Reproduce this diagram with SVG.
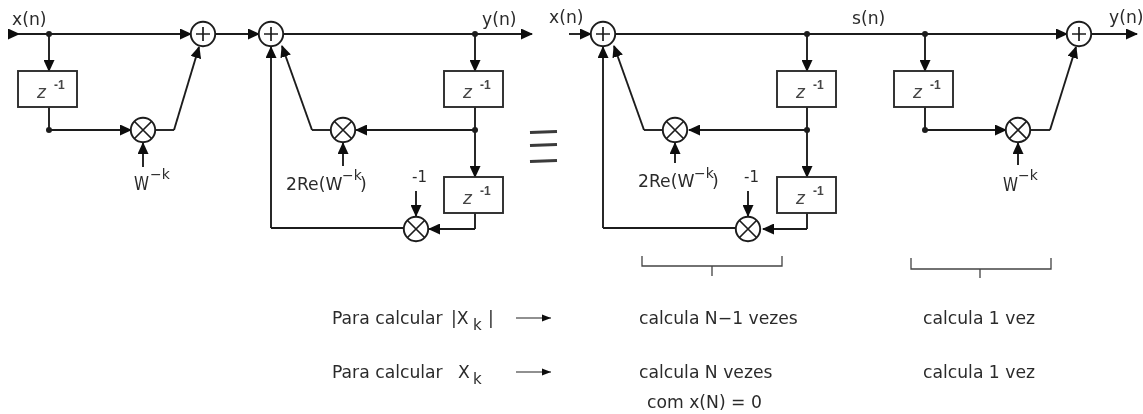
<svg xmlns="http://www.w3.org/2000/svg" width="1143" height="414" viewBox="0 0 1143 414">
<style>
.l{fill:none;stroke:#1c1c1c;stroke-width:1.9}
.la{fill:none;stroke:#1c1c1c;stroke-width:1.9;marker-end:url(#a)}
.th{fill:none;stroke:#444;stroke-width:1.3}
.box{fill:#fff;stroke:#2a2a2a;stroke-width:1.9}
.c{fill:#fff;stroke:#1c1c1c;stroke-width:1.9}
.s{stroke:#1c1c1c;stroke-width:1.7;fill:none}
.d{fill:#1c1c1c}
text{font-family:"DejaVu Sans",sans-serif;fill:#2c2c2c;font-size:17.2px}
.z{font-family:"Liberation Sans",sans-serif;font-size:19px;font-style:italic;fill:#444}
.zs{font-family:"Liberation Sans",sans-serif;font-size:12px;font-weight:bold;fill:#444}
.sup{font-size:14px}
.w{font-size:19px}
.m{font-size:15px}
</style>
<defs>
<marker id="a" viewBox="0 0 12 11" refX="11" refY="5.5" markerWidth="12" markerHeight="11" markerUnits="userSpaceOnUse" orient="auto"><path d="M0 0L12 5.5L0 11Z" fill="#111"/></marker>
<marker id="b" viewBox="0 0 10 8" refX="10" refY="4" markerWidth="9" markerHeight="8" markerUnits="userSpaceOnUse" orient="auto"><path d="M0 0L10 4L0 8Z" fill="#111"/></marker>
<filter id="soft" x="-2%" y="-2%" width="104%" height="104%"><feGaussianBlur stdDeviation="0.45"/></filter>
<g id="add"><circle class="c" r="12.2"/><path class="s" d="M-7 0H7M0-7V7"/></g>
<g id="mul"><circle class="c" r="12.2"/><path class="s" d="M-8.500-8.500L8.500 8.500M-8.500 8.500L8.500-8.500"/></g>
<g id="zb"><rect class="box" width="59" height="36"/><text class="z" x="19" y="27">z</text><text class="zs" x="36" y="18">-1</text></g>
</defs>
<g filter="url(#soft)">
<g id="connectors">
<path class="la" d="M8 34H19"/><path class="la" d="M19 34H191"/>
<path class="la" d="M49 34V71"/>
<path class="l" d="M49 107V130"/>
<path class="la" d="M49 130H131"/>
<path class="la" d="M143 167V143"/>
<path class="l" d="M155 130H174"/>
<path class="la" d="M174 130L199 47"/>
<path class="la" d="M215 34H259"/>
<path class="la" d="M283 34H532"/>
<path class="la" d="M475 34V71"/>
<path class="l" d="M475 107V130"/>
<path class="la" d="M475 130H356"/>
<path class="la" d="M475 130V177"/>
<path class="l" d="M331 130H312"/>
<path class="la" d="M312 130L282 46"/>
<path class="la" d="M343 166V143"/>
<path class="l" d="M475 212V229"/>
<path class="la" d="M475 229H429"/>
<path class="la" d="M416 191V216"/>
<path class="l" d="M404 228H271"/>
<path class="la" d="M271 228V47"/>

<path class="la" d="M569 34H591"/>
<path class="la" d="M615 34H1067"/>
<path class="la" d="M807 34V71"/>
<path class="l" d="M807 107V130"/>
<path class="la" d="M807 130H689"/>
<path class="la" d="M807 130V177"/>
<path class="l" d="M663 130H644"/>
<path class="la" d="M644 130L614 46"/>
<path class="la" d="M675 163V143"/>
<path class="l" d="M807 212V229"/>
<path class="la" d="M807 229H763"/>
<path class="la" d="M748 191V216"/>
<path class="l" d="M736 228H603"/>
<path class="la" d="M603 228V47"/>
<path class="la" d="M925 34V71"/>
<path class="l" d="M925 107V130"/>
<path class="la" d="M925 130H1006"/>
<path class="l" d="M1030 130H1050"/>
<path class="la" d="M1050 130L1076 47"/>
<path class="la" d="M1018 165V143"/>
<path class="la" d="M1091 34H1137"/>
<path class="th" d="M642 256V266H782V256M712 266V276"/>
<path class="th" d="M911 258V269H1051V258M980 269V278"/>
<path fill="none" stroke="#222" stroke-width="1.2" marker-end="url(#b)" d="M516 318H551"/>
<path fill="none" stroke="#222" stroke-width="1.2" marker-end="url(#b)" d="M516 372H551"/>
<circle class="d" cx="49" cy="34" r="3"/><circle class="d" cx="49" cy="130" r="3"/>
<circle class="d" cx="475" cy="34" r="3"/><circle class="d" cx="475" cy="130" r="3"/>
<circle class="d" cx="807" cy="34" r="3"/><circle class="d" cx="807" cy="130" r="3"/>
<circle class="d" cx="925" cy="34" r="3"/><circle class="d" cx="925" cy="130" r="3"/>
</g>
<g id="equal-sign" fill="none" stroke="#3a3a3a" stroke-width="3.200">
<path d="M530 132.500L557 131.500M530 145.500L557 144.500M530 161.500L557 160.500"/>
</g>
<g id="add1"><use href="#add" x="203" y="34"/></g>
<g id="add2"><use href="#add" x="271" y="34"/></g>
<g id="add3"><use href="#add" x="603" y="34"/></g>
<g id="add4"><use href="#add" x="1079" y="34"/></g>
<g id="mul1"><use href="#mul" x="143" y="130"/></g>
<g id="mul2"><use href="#mul" x="343" y="130"/></g>
<g id="mul3"><use href="#mul" x="416" y="229"/></g>
<g id="mul4"><use href="#mul" x="675" y="130"/></g>
<g id="mul5"><use href="#mul" x="748" y="229"/></g>
<g id="mul6"><use href="#mul" x="1018" y="130"/></g>
<g id="z1"><use href="#zb" x="18" y="71"/></g>
<g id="z2"><use href="#zb" x="444" y="71"/></g>
<g id="z3"><use href="#zb" x="444" y="177"/></g>
<g id="z4"><use href="#zb" x="777" y="71"/></g>
<g id="z5"><use href="#zb" x="777" y="177"/></g>
<g id="z6"><use href="#zb" x="894" y="71"/></g>
<g id="labels">
<text x="12" y="25">x(n)</text>
<text x="482" y="25">y(n)</text>
<text x="549" y="23">x(n)</text>
<text x="852" y="24">s(n)</text>
<text x="1109" y="23">y(n)</text>
<text x="134" y="190" class="w" textLength="15" lengthAdjust="spacingAndGlyphs">W</text><text x="150" y="179" class="sup">−k</text>
<text x="286" y="190">2Re(W</text><text x="342" y="180" class="sup">−k</text><text x="360" y="190">)</text>
<text x="412" y="182" class="m">-1</text>
<text x="638" y="187">2Re(W</text><text x="694" y="178" class="sup">−k</text><text x="712" y="187">)</text>
<text x="744" y="182" class="m">-1</text>
<text x="1003" y="191" class="w" textLength="15" lengthAdjust="spacingAndGlyphs">W</text><text x="1018" y="180" class="sup">−k</text>
<text x="332" y="324">Para calcular</text><text x="451" y="324">|X</text><text x="473" y="330" class="m">k</text><text x="488" y="324">|</text>
<text x="332" y="378">Para calcular</text><text x="458" y="378">X</text><text x="473" y="384" class="m">k</text>
<text x="639" y="324">calcula N−1 vezes</text>
<text x="639" y="378">calcula N vezes</text>
<text x="647" y="408">com x(N) = 0</text>
<text x="923" y="324">calcula 1 vez</text>
<text x="923" y="378">calcula 1 vez</text>
</g>
</g>
</svg>
